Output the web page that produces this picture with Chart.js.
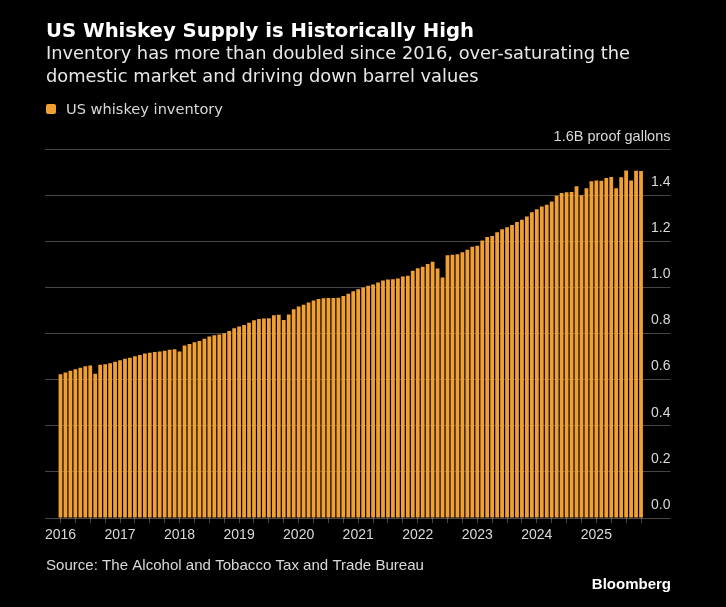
<!DOCTYPE html>
<html>
<head>
<meta charset="utf-8">
<script src="https://cdn.jsdelivr.net/npm/chart.js@4.4.1/dist/chart.umd.min.js"></script>
<style>
  html, body { margin: 0; padding: 0; background: #000; }
  #wrap { width: 726px; height: 607px; position: relative; }
</style>
</head>
<body>
<div id="wrap"><canvas id="c" width="726" height="607"></canvas></div>
<script>
// ---------------- DATA ----------------
const years = ['2016', '2017', '2018', '2019', '2020', '2021', '2022', '2023', '2024', '2025'];

// Monthly US whiskey inventory, billion proof gallons
const inv2016 = [0.623, 0.631, 0.638, 0.645, 0.652, 0.658, 0.661, 0.625, 0.664, 0.667, 0.671, 0.678];
const inv2017 = [0.684, 0.690, 0.695, 0.701, 0.707, 0.713, 0.716, 0.720, 0.722, 0.725, 0.729, 0.732];
const inv2018 = [0.722, 0.748, 0.755, 0.762, 0.768, 0.777, 0.787, 0.792, 0.796, 0.801, 0.811, 0.823];
const inv2019 = [0.830, 0.837, 0.847, 0.857, 0.863, 0.865, 0.866, 0.879, 0.881, 0.859, 0.882, 0.905];
const inv2020 = [0.917, 0.925, 0.934, 0.943, 0.950, 0.953, 0.954, 0.954, 0.955, 0.963, 0.972, 0.983];
const inv2021 = [0.992, 0.999, 1.007, 1.012, 1.021, 1.030, 1.034, 1.035, 1.038, 1.047, 1.050, 1.072];
const inv2022 = [1.083, 1.089, 1.101, 1.111, 1.082, 1.043, 1.139, 1.141, 1.144, 1.152, 1.163, 1.176];
const inv2023 = [1.180, 1.203, 1.218, 1.223, 1.239, 1.252, 1.261, 1.271, 1.283, 1.293, 1.307, 1.326];
const inv2024 = [1.339, 1.351, 1.358, 1.372, 1.397, 1.409, 1.413, 1.414, 1.438, 1.399, 1.430, 1.460];
const inv2025 = [1.463, 1.462, 1.474, 1.479, 1.430, 1.477, 1.507, 1.463, 1.506, 1.505];

const yTickValues = [0, 0.2, 0.4, 0.6, 0.8, 1.0, 1.2, 1.4, 1.6];
const unitLabel = '1.6B proof gallons';
const seriesName = 'US whiskey inventory';
const titleText = 'US Whiskey Supply is Historically High';
const subtitleLines = [
  'Inventory has more than doubled since 2016, over-saturating the',
  'domestic market and driving down barrel values'
];
const sourceText = 'Source: The Alcohol and Tobacco Tax and Trade Bureau';
const brandText = 'Bloomberg';

// ---------------- BUILD ----------------
const values = [].concat(inv2016, inv2017, inv2018, inv2019, inv2020,
                         inv2021, inv2022, inv2023, inv2024, inv2025);
const categories = [];
years.forEach(y => {
  for (let m = 1; m <= 12; m++) categories.push(y + '-' + String(m).padStart(2, '0'));
});
categories.length = values.length;

const ORANGE = '#F0A032';
const GRID = 'rgba(255,255,255,0.28)';
const TICKTXT = '#d9d9d9';
const SANS = "'Liberation Sans', Arial, sans-serif";
const DEJA = "'DejaVu Sans', 'Liberation Sans', sans-serif";

function fitText(ctx, text, x, y, width, k) {
  const w = ctx.measureText(text).width;
  const s = k || (width ? width / w : 1);
  ctx.save();
  ctx.translate(x, y);
  ctx.scale(s, 1);
  ctx.textAlign = 'left';
  ctx.fillText(text, 0, 0);
  ctx.restore();
  return s;
}

const textPlugin = {
  id: 'texts',
  beforeDraw(chart) {
    const c = chart.ctx;
    c.save();
    c.fillStyle = '#000';
    c.fillRect(0, 0, chart.width, chart.height);
    c.restore();
  },
  afterDraw(chart) {
    const c = chart.ctx;
    const ys = chart.scales.y;
    c.save();
    c.textBaseline = 'alphabetic';
    // Title
    c.fillStyle = '#ffffff';
    c.font = 'bold 19.5px ' + DEJA;
    fitText(c, titleText, 46, 37, 428);
    // Subtitle
    c.fillStyle = '#e8e8e8';
    c.font = '17px ' + DEJA;
    const k = fitText(c, subtitleLines[0], 46, 59, 584);
    fitText(c, subtitleLines[1], 46, 82, null, k);
    // Legend
    const ds = chart.data.datasets[0];
    c.fillStyle = ds.backgroundColor;
    c.beginPath();
    if (c.roundRect) c.roundRect(46, 104, 10, 10, 2); else c.rect(46, 104, 10, 10);
    c.fill();
    c.fillStyle = TICKTXT;
    c.font = '14.5px ' + DEJA;
    fitText(c, ds.label, 66, 114, 157);
    // Unit label at top gridline
    c.font = '14.5px ' + SANS;
    c.textAlign = 'right';
    c.fillStyle = TICKTXT;
    c.fillText(unitLabel, 670.5, ys.getPixelForValue(1.6) - 8);
    // Source
    c.textAlign = 'left';
    c.font = '14.5px ' + SANS;
    fitText(c, sourceText, 46, 570, 378);
    // Brand
    c.fillStyle = '#ffffff';
    c.font = 'bold 15px ' + SANS;
    c.textAlign = 'right';
    c.fillText(brandText, 671, 589);
    c.restore();
  }
};

new Chart(document.getElementById('c').getContext('2d'), {
  type: 'bar',
  data: {
    labels: categories,
    datasets: [{
      label: seriesName,
      data: values,
      backgroundColor: ORANGE,
      borderWidth: 0,
      barPercentage: 0.76,
      categoryPercentage: 1.0
    }]
  },
  options: {
    responsive: false,
    animation: false,
    layout: { padding: { left: 45, right: 55.5, top: 149, bottom: 64 } },
    plugins: {
      legend: { display: false },
      title: { display: false },
      tooltip: { enabled: false }
    },
    scales: {
      x: {
        type: 'category',
        offset: true,
        border: { display: false },
        grid: {
          display: true,
          drawOnChartArea: false,
          drawTicks: true,
          offset: false,
          tickLength: 5,
          color: GRID,
          tickColor: (ctx) => (ctx.index % 3 === 0 ? GRID : 'rgba(0,0,0,0)')
        },
        ticks: {
          autoSkip: false,
          maxRotation: 0,
          minRotation: 0,
          padding: 4,
          color: TICKTXT,
          font: { family: SANS, size: 14 },
          callback: (v, i) => (i % 12 === 0 ? categories[i].slice(0, 4) : '')
        },
        afterFit: (s) => { s.height = 25; }
      },
      y: {
        type: 'linear',
        position: 'right',
        min: 0,
        max: 1.6,
        z: 1,
        border: { display: false },
        grid: { color: GRID, lineWidth: 1, drawTicks: true, tickLength: 27 },
        afterBuildTicks: (s) => { s.ticks = yTickValues.map(v => ({ value: v })); },
        ticks: {
          padding: -19.5,
          labelOffset: -13,
          crossAlign: 'near',
          color: TICKTXT,
          font: { family: SANS, size: 14 },
          callback: (v) => (v > 1.59 ? '' : Number(v).toFixed(1))
        },
        afterFit: (s) => { s.width = 27; }
      },
      y2: {
        type: 'linear',
        position: 'left',
        min: 0,
        max: 1.6,
        border: { display: false },
        grid: { color: GRID, drawOnChartArea: false, drawTicks: true, tickLength: 13 },
        afterBuildTicks: (s) => { s.ticks = yTickValues.map(v => ({ value: v })); },
        ticks: { display: false },
        afterFit: (s) => { s.width = 13; }
      }
    }
  },
  plugins: [textPlugin]
});
</script>
</body>
</html>
